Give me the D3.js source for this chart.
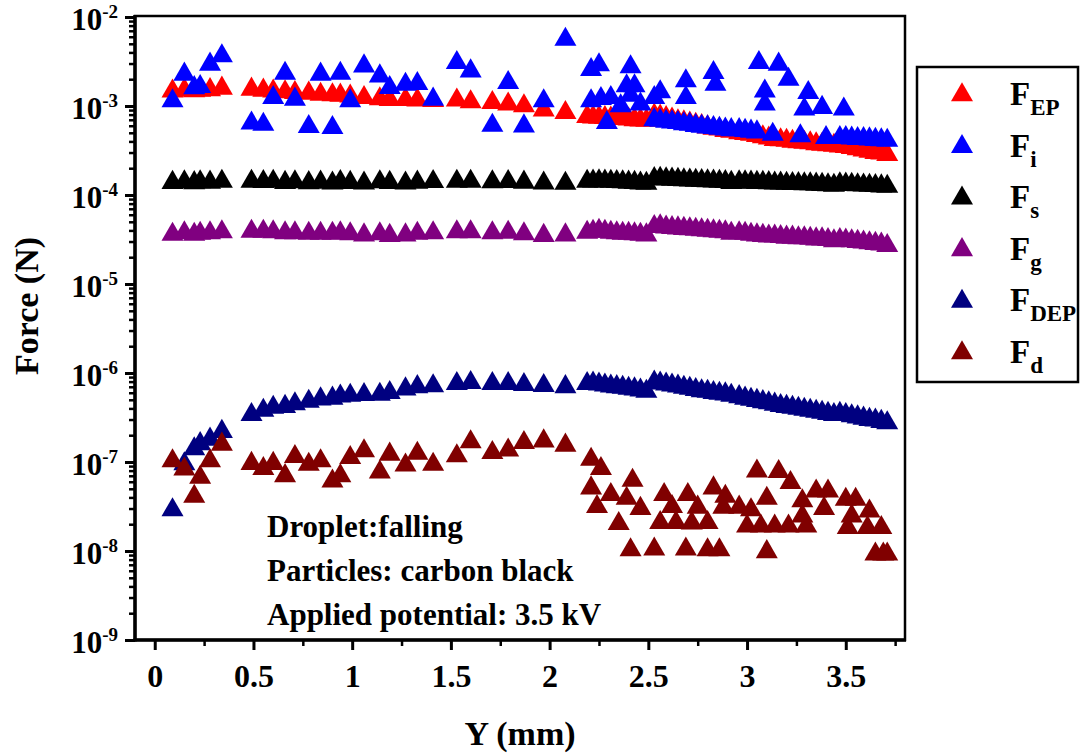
<!DOCTYPE html>
<html>
<head>
<meta charset="utf-8">
<script src="https://cdn.jsdelivr.net/npm/d3@7"></script>
<style>
  body { margin: 0; background: #fff; }
  svg text { font-family: "Liberation Serif", "Times New Roman", serif; font-weight: bold; fill: #000; }
</style>
</head>
<body>
<script>
// Positions along Y (mm), shared by F_EP, F_s, F_g and F_DEP
var yPos = [0.09, 0.15, 0.20, 0.23, 0.28, 0.34,
  0.49, 0.55, 0.60, 0.66, 0.71, 0.78, 0.84, 0.90, 0.94, 0.99, 1.06, 1.14, 1.19, 1.27, 1.33, 1.41,
  1.53, 1.60, 1.71, 1.79, 1.87, 1.97, 2.08,
  2.19, 2.22, 2.25, 2.28, 2.31, 2.34, 2.37, 2.40, 2.43, 2.46, 2.49,
  2.53, 2.56, 2.59, 2.62, 2.65, 2.68, 2.71, 2.74, 2.77, 2.80, 2.83, 2.86, 2.89, 2.92,
  2.96, 2.99, 3.02, 3.05, 3.08, 3.11, 3.14, 3.17, 3.20, 3.23, 3.26, 3.29, 3.32, 3.35, 3.38, 3.41, 3.44,
  3.47, 3.50, 3.53, 3.56, 3.59, 3.62, 3.65, 3.68, 3.71];

var fEP = [1.47e-3, 1.50e-3, 1.48e-3, 1.50e-3, 1.52e-3, 1.58e-3,
  1.54e-3, 1.50e-3, 1.47e-3, 1.44e-3, 1.41e-3, 1.39e-3, 1.35e-3, 1.33e-3, 1.32e-3, 1.29e-3, 1.24e-3, 1.20e-3, 1.18e-3, 1.18e-3, 1.16e-3, 1.15e-3,
  1.16e-3, 1.11e-3, 1.09e-3, 1.05e-3, 1.00e-3, 9.0e-4, 8.4e-4,
  7.6e-4, 7.5e-4, 7.45e-4, 7.4e-4, 7.3e-4, 7.25e-4, 7.2e-4, 7.1e-4, 7.0e-4, 6.95e-4, 6.9e-4,
  7.9e-4, 7.7e-4, 7.4e-4, 7.1e-4, 6.8e-4, 6.6e-4, 6.4e-4, 6.2e-4, 6.0e-4, 5.8e-4, 5.6e-4, 5.5e-4, 5.3e-4, 5.2e-4,
  5.0e-4, 4.9e-4, 4.8e-4, 4.65e-4, 4.5e-4, 4.35e-4, 4.2e-4, 4.15e-4, 4.1e-4, 4.0e-4, 3.95e-4, 3.9e-4, 3.85e-4, 3.75e-4, 3.7e-4, 3.65e-4, 3.6e-4,
  3.55e-4, 3.5e-4, 3.4e-4, 3.3e-4, 3.2e-4, 3.1e-4, 3.0e-4, 2.95e-4, 2.85e-4];

var fS = [1.38e-4, 1.40e-4, 1.37e-4, 1.40e-4, 1.39e-4, 1.42e-4,
  1.42e-4, 1.41e-4, 1.42e-4, 1.38e-4, 1.40e-4, 1.37e-4, 1.39e-4, 1.36e-4, 1.41e-4, 1.38e-4, 1.36e-4, 1.40e-4, 1.38e-4, 1.36e-4, 1.39e-4, 1.41e-4,
  1.42e-4, 1.42e-4, 1.40e-4, 1.41e-4, 1.39e-4, 1.36e-4, 1.35e-4,
  1.42e-4, 1.43e-4, 1.44e-4, 1.43e-4, 1.42e-4, 1.41e-4, 1.40e-4, 1.39e-4, 1.38e-4, 1.36e-4, 1.35e-4,
  1.52e-4, 1.53e-4, 1.51e-4, 1.50e-4, 1.49e-4, 1.48e-4, 1.47e-4, 1.46e-4, 1.45e-4, 1.44e-4, 1.43e-4, 1.42e-4, 1.41e-4, 1.38e-4,
  1.40e-4, 1.40e-4, 1.39e-4, 1.38e-4, 1.38e-4, 1.37e-4, 1.36e-4, 1.36e-4, 1.35e-4, 1.34e-4, 1.34e-4, 1.33e-4, 1.33e-4, 1.32e-4, 1.31e-4, 1.30e-4, 1.28e-4,
  1.33e-4, 1.32e-4, 1.31e-4, 1.30e-4, 1.29e-4, 1.28e-4, 1.27e-4, 1.26e-4, 1.25e-4];

var fG = [3.60e-5, 3.75e-5, 3.60e-5, 3.70e-5, 3.75e-5, 3.85e-5,
  3.90e-5, 3.90e-5, 3.85e-5, 3.75e-5, 3.75e-5, 3.70e-5, 3.70e-5, 3.70e-5, 3.75e-5, 3.65e-5, 3.55e-5, 3.65e-5, 3.50e-5, 3.55e-5, 3.70e-5, 3.75e-5,
  3.85e-5, 3.85e-5, 3.75e-5, 3.80e-5, 3.65e-5, 3.50e-5, 3.55e-5,
  3.80e-5, 3.90e-5, 4.00e-5, 3.90e-5, 3.80e-5, 3.75e-5, 3.70e-5, 3.70e-5, 3.65e-5, 3.60e-5, 3.55e-5,
  4.40e-5, 4.50e-5, 4.35e-5, 4.30e-5, 4.25e-5, 4.20e-5, 4.15e-5, 4.10e-5, 4.05e-5, 4.00e-5, 3.95e-5, 3.90e-5, 3.85e-5, 3.70e-5,
  3.75e-5, 3.70e-5, 3.60e-5, 3.55e-5, 3.50e-5, 3.45e-5, 3.45e-5, 3.40e-5, 3.35e-5, 3.35e-5, 3.30e-5, 3.30e-5, 3.25e-5, 3.20e-5, 3.20e-5, 3.15e-5, 3.05e-5,
  3.15e-5, 3.10e-5, 3.05e-5, 3.00e-5, 2.95e-5, 2.90e-5, 2.85e-5, 2.80e-5, 2.70e-5];

var fDEP = [2.9e-8, 9.5e-8, 1.4e-7, 1.6e-7, 1.8e-7, 2.2e-7,
  3.4e-7, 3.8e-7, 4.1e-7, 4.2e-7, 4.5e-7, 4.8e-7, 5.1e-7, 5.2e-7, 5.5e-7, 5.6e-7, 5.7e-7, 5.75e-7, 6.0e-7, 6.6e-7, 7.0e-7, 7.15e-7,
  7.6e-7, 7.8e-7, 7.6e-7, 7.6e-7, 7.4e-7, 7.2e-7, 7.0e-7,
  7.6e-7, 7.7e-7, 7.5e-7, 7.3e-7, 7.1e-7, 7.0e-7, 6.9e-7, 6.7e-7, 6.6e-7, 6.4e-7, 6.2e-7,
  7.9e-7, 7.7e-7, 7.5e-7, 7.3e-7, 7.1e-7, 6.9e-7, 6.7e-7, 6.5e-7, 6.3e-7, 6.2e-7, 6.0e-7, 5.9e-7, 5.8e-7, 5.6e-7,
  5.4e-7, 5.2e-7, 5.05e-7, 4.9e-7, 4.75e-7, 4.6e-7, 4.45e-7, 4.3e-7, 4.2e-7, 4.1e-7, 4.0e-7, 3.9e-7, 3.8e-7, 3.7e-7, 3.6e-7, 3.5e-7, 3.4e-7,
  3.5e-7, 3.4e-7, 3.3e-7, 3.2e-7, 3.1e-7, 3.0e-7, 2.95e-7, 2.85e-7, 2.75e-7];

// F_i is scattered, so it keeps its own positions
var fiPos = [0.09, 0.15, 0.20, 0.23, 0.28, 0.34,
  0.49, 0.55, 0.60, 0.66, 0.71, 0.78, 0.84, 0.90, 0.94, 0.99, 1.06, 1.14, 1.19, 1.27, 1.33, 1.41,
  1.53, 1.60, 1.71, 1.79, 1.87, 1.97, 2.08,
  2.21, 2.25, 2.21, 2.26, 2.31, 2.36, 2.29, 2.41, 2.39, 2.43, 2.41, 2.46,
  2.53, 2.56, 2.69, 2.69, 2.83, 2.84, 3.06, 3.16, 3.21, 3.09, 3.09, 3.31, 3.29, 3.38, 3.49,
  2.53, 2.56, 2.59, 2.62, 2.65, 2.68, 2.71, 2.74, 2.77, 2.80, 2.83, 2.86, 2.89, 2.92,
  2.96, 2.99, 3.02, 3.05, 3.13, 3.27, 3.40,
  3.47, 3.50, 3.53, 3.56, 3.59, 3.62, 3.65, 3.68, 3.71];

var fi = [1.14e-3, 2.27e-3, 1.60e-3, 1.65e-3, 2.94e-3, 3.65e-3,
  6.4e-4, 6.2e-4, 1.24e-3, 2.32e-3, 1.19e-3, 5.85e-4, 2.27e-3, 5.7e-4, 2.32e-3, 1.14e-3, 2.81e-3, 2.17e-3, 1.61e-3, 1.75e-3, 1.78e-3, 1.19e-3,
  3.07e-3, 2.47e-3, 6.05e-4, 1.83e-3, 5.95e-4, 1.14e-3, 5.6e-3,
  2.56e-3, 2.90e-3, 1.14e-3, 1.21e-3, 1.24e-3, 1.00e-3, 6.5e-4, 2.75e-3, 1.68e-3, 1.68e-3, 1.32e-3, 1.05e-3,
  1.24e-3, 1.44e-3, 1.91e-3, 1.24e-3, 2.37e-3, 1.75e-3, 3.07e-3, 2.94e-3, 1.99e-3, 1.47e-3, 1.05e-3, 1.41e-3, 9.2e-4, 9.6e-4, 9.2e-4,
  7.0e-4, 6.9e-4, 6.7e-4, 6.6e-4, 6.5e-4, 6.3e-4, 6.2e-4, 6.0e-4, 5.9e-4, 5.8e-4, 5.7e-4, 5.6e-4, 5.5e-4, 5.4e-4,
  5.4e-4, 5.3e-4, 5.2e-4, 5.1e-4, 4.8e-4, 4.6e-4, 4.4e-4,
  4.4e-4, 4.4e-4, 4.35e-4, 4.3e-4, 4.3e-4, 4.25e-4, 4.2e-4, 4.15e-4, 4.1e-4];

// F_d is scattered too
var fdPos = [0.09, 0.15, 0.20, 0.23, 0.28, 0.34,
  0.49, 0.55, 0.60, 0.66, 0.71, 0.78, 0.84, 0.90, 0.94, 0.99, 1.06, 1.14, 1.19, 1.27, 1.33, 1.41,
  1.53, 1.60, 1.71, 1.79, 1.87, 1.97, 2.08,
  2.21, 2.26, 2.21, 2.42, 2.31, 2.24, 2.39, 2.46, 2.35, 2.41,
  2.53, 2.58, 2.56, 2.62, 2.70, 2.75, 2.69, 2.80, 2.86, 2.64, 2.72, 2.80, 2.83, 2.89, 2.88,
  2.96, 3.02, 3.05, 3.16, 3.10, 3.00, 3.07, 3.14, 3.10, 3.22, 3.21, 3.28, 3.30, 3.35, 3.41, 3.39, 3.28,
  3.50, 3.55, 3.53, 3.62, 3.51, 3.61, 3.68, 3.65, 3.69, 3.71];

var fd = [1.03e-7, 8.3e-8, 4.1e-8, 6.7e-8, 1.03e-7, 1.58e-7,
  9.6e-8, 8.4e-8, 9.6e-8, 7.0e-8, 1.15e-7, 9.4e-8, 1.03e-7, 6.1e-8, 7.0e-8, 1.12e-7, 1.33e-7, 7.7e-8, 1.22e-7, 9.2e-8, 1.25e-7, 9.4e-8,
  1.17e-7, 1.68e-7, 1.27e-7, 1.36e-7, 1.65e-7, 1.72e-7, 1.54e-7,
  1.07e-7, 8.4e-8, 5.1e-8, 6.2e-8, 4.3e-8, 3.15e-8, 3.9e-8, 3.0e-8, 2.03e-8, 1.03e-8,
  1.05e-8, 4.3e-8, 2.08e-8, 3.15e-8, 4.3e-8, 3.1e-8, 1.05e-8, 1.03e-8, 1.03e-8, 2.08e-8, 2.05e-8, 2.08e-8, 5.1e-8, 4.1e-8, 3.1e-8,
  3.1e-8, 2.9e-8, 7.9e-8, 7.8e-8, 3.9e-8, 1.9e-8, 1.9e-8, 1.9e-8, 9.8e-9, 5.85e-8, 1.9e-8, 3.65e-8, 1.9e-8, 4.7e-8, 4.7e-8, 3.0e-8, 2.47e-8,
  3.8e-8, 3.8e-8, 2.47e-8, 2.8e-8, 1.83e-8, 1.83e-8, 1.83e-8, 9.2e-9, 9.2e-9, 9.2e-9];

var xTicks = [0, 0.5, 1, 1.5, 2, 2.5, 3, 3.5];
var xMinorTicks = [0.25, 0.75, 1.25, 1.75, 2.25, 2.75, 3.25, 3.75];
var yExponents = [-2, -3, -4, -5, -6, -7, -8, -9];
var notes = ["Droplet:falling", "Particles: carbon black", "Applied potential: 3.5 kV"];

var series = [
  {name: "F", sub: "EP", color: "#ff0000", xs: yPos, ys: fEP},
  {name: "F", sub: "i", color: "#0000ff", xs: fiPos, ys: fi},
  {name: "F", sub: "s", color: "#000000", xs: yPos, ys: fS},
  {name: "F", sub: "g", color: "#800080", xs: yPos, ys: fG},
  {name: "F", sub: "DEP", color: "#000080", xs: yPos, ys: fDEP},
  {name: "F", sub: "d", color: "#800000", xs: fdPos, ys: fd}
];

var width = 1080, height = 756;
var plot = {left: 135, right: 905, top: 16, bottom: 640};

var svg = d3.select("body")
            .append("svg")
            .attr("width", width)
            .attr("height", height);

var x = d3.scaleLinear()
          .domain([-0.1, 3.8])
          .range([plot.left, plot.right]);

var y = d3.scaleLog()
          .domain([1e-9, 1e-2])
          .range([plot.bottom, 17]);

var triangle = d3.symbol().type(d3.symbolTriangle).size(210);

// Markers, drawn in legend order so later series lie on top
series.forEach(function(s) {
  svg.append("g")
     .selectAll("path")
     .data(s.xs.map(function(d, i) { return [d, s.ys[i]]; }))
     .enter()
     .append("path")
     .attr("d", triangle)
     .attr("transform", function(d) { return "translate(" + x(d[0]) + "," + y(d[1]) + ")"; })
     .attr("fill", s.color);
});

// Y axis: major and minor ticks on the outside
var minorY = [];
for (var e = -9; e < -2; e++) {
  for (var m = 2; m <= 9; m++) minorY.push(m * Math.pow(10, e));
}

svg.append("g")
   .attr("transform", "translate(" + plot.left + ",0)")
   .call(d3.axisLeft(y).tickValues(yExponents.map(function(d) { return Math.pow(10, d); })).tickSize(10).tickFormat(""))
   .call(function(g) { g.select(".domain").remove(); })
   .selectAll("line").attr("stroke", "#000").attr("stroke-width", 3);

svg.append("g")
   .attr("transform", "translate(" + plot.left + ",0)")
   .call(d3.axisLeft(y).tickValues(minorY).tickSize(6).tickFormat(""))
   .call(function(g) { g.select(".domain").remove(); })
   .selectAll("line").attr("stroke", "#000").attr("stroke-width", 2.5);

var yLabels = svg.append("g")
   .selectAll("text")
   .data(yExponents)
   .enter()
   .append("text")
   .attr("x", 118)
   .attr("y", function(d) { return y(Math.pow(10, d)) + 13; })
   .attr("text-anchor", "end")
   .style("font-size", "31px");

yLabels.append("tspan").text("10");
yLabels.append("tspan")
       .attr("dy", -12)
       .style("font-size", "19px")
       .text(function(d) { return d; });

// X axis
svg.append("g")
   .attr("transform", "translate(0," + plot.bottom + ")")
   .call(d3.axisBottom(x).tickValues(xTicks).tickSize(10).tickFormat(function(d) { return d; }))
   .call(function(g) { g.select(".domain").remove(); })
   .call(function(g) {
     g.selectAll("line").attr("stroke", "#000").attr("stroke-width", 3);
     g.selectAll("text")
      .attr("y", 47)
      .attr("dy", null)
      .attr("fill", "#000")
      .style("font-family", "'Liberation Serif', serif")
      .style("font-weight", "bold")
      .style("font-size", "32px");
   });

svg.append("g")
   .attr("transform", "translate(0," + plot.bottom + ")")
   .call(d3.axisBottom(x).tickValues(xMinorTicks).tickSize(6).tickFormat(""))
   .call(function(g) { g.select(".domain").remove(); })
   .selectAll("line").attr("stroke", "#000").attr("stroke-width", 2.5);

// Frame
svg.append("rect")
   .attr("x", plot.left)
   .attr("y", plot.top)
   .attr("width", plot.right - plot.left)
   .attr("height", plot.bottom - plot.top)
   .attr("fill", "none")
   .attr("stroke", "#000")
   .attr("stroke-width", 2.5);

svg.append("line")
   .attr("x1", plot.left).attr("x2", plot.left)
   .attr("y1", plot.top - 1).attr("y2", plot.bottom + 1.5)
   .attr("stroke", "#000").attr("stroke-width", 3.5);

svg.append("line")
   .attr("x1", plot.left - 1.5).attr("x2", plot.right + 1)
   .attr("y1", plot.bottom).attr("y2", plot.bottom)
   .attr("stroke", "#000").attr("stroke-width", 3.5);

// Axis titles
svg.append("text")
   .attr("x", (plot.left + plot.right) / 2)
   .attr("y", 745)
   .attr("text-anchor", "middle")
   .style("font-size", "34px")
   .text("Y (mm)");

svg.append("text")
   .attr("transform", "translate(38,306) rotate(-90)")
   .attr("text-anchor", "middle")
   .style("font-size", "34px")
   .text("Force (N)");

// Notes inside the plot
svg.append("g")
   .selectAll("text")
   .data(notes)
   .enter()
   .append("text")
   .attr("x", 267)
   .attr("y", function(d, i) { return 537 + 44 * i; })
   .style("font-size", "31px")
   .text(function(d) { return d; });

// Legend
var legend = svg.append("g");

legend.append("rect")
      .attr("x", 917)
      .attr("y", 67)
      .attr("width", 161)
      .attr("height", 315)
      .attr("fill", "#fff")
      .attr("stroke", "#000")
      .attr("stroke-width", 2.5);

var item = legend.selectAll(".legendItem")
      .data(series)
      .enter()
      .append("g")
      .attr("class", "legendItem")
      .attr("transform", function(d, i) { return "translate(0," + (51.6 * i) + ")"; });

item.append("path")
    .attr("d", triangle)
    .attr("transform", "translate(962,95)")
    .attr("fill", function(d) { return d.color; });

var itemText = item.append("text")
    .attr("x", 1010)
    .attr("y", 105)
    .style("font-size", "33px");

itemText.append("tspan").text(function(d) { return d.name; });
itemText.append("tspan")
        .attr("dy", 10)
        .style("font-size", "23px")
        .text(function(d) { return d.sub; });
</script>
</body>
</html>
